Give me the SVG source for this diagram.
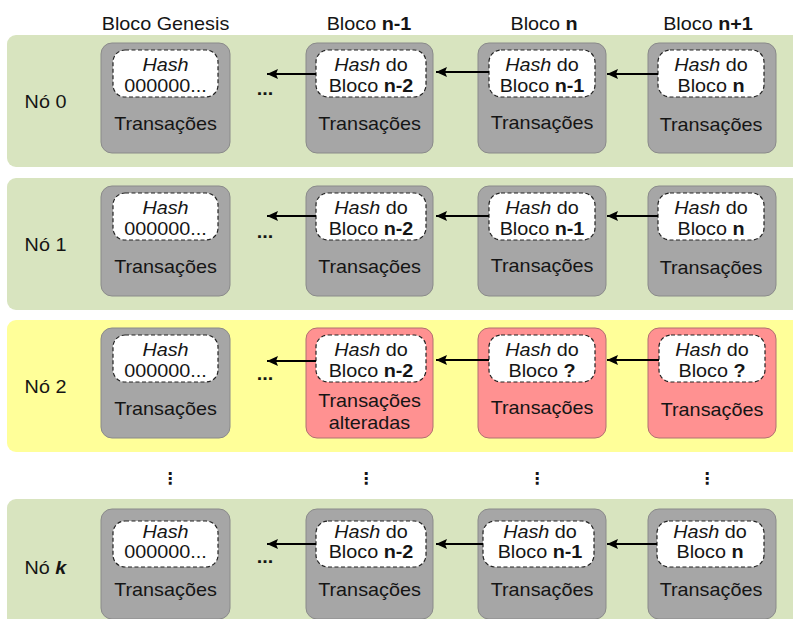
<svg xmlns="http://www.w3.org/2000/svg" width="793" height="619" viewBox="0 0 793 619">
  <style>
    text { font-family: "Liberation Sans", Arial, sans-serif; font-size: 18px; fill: #151515; text-anchor: middle;
           transform-box: fill-box; transform-origin: center; transform: scaleX(1.1); }
    .it { font-style: italic; }
    .b { font-weight: bold; }
    .band { fill: #d8e4bf; }
    .band.alert { fill: #ffff99; }
    .blk { fill: #a6a6a6; stroke: #8a8a8a; stroke-width: 1; }
    .blk.bad { fill: #ff9191; stroke: #b07070; }
    .hash { fill: #ffffff; stroke: #222; stroke-width: 1.2; stroke-dasharray: 4 2.5; }
    .link { stroke: #000; stroke-width: 2; fill: none; marker-end: url(#arrow); }
    .vdots { font-family: "DejaVu Sans", sans-serif; font-weight: bold; font-size: 16px; transform: none; }
  </style>
  <defs>
    <marker id="arrow" markerUnits="userSpaceOnUse" markerWidth="12" markerHeight="10" refX="11" refY="5" orient="auto">
      <path d="M0,0 L11,5 L0,10 L2,5 z" fill="#000"/>
    </marker>
  </defs>

  <rect width="793" height="619" fill="#ffffff"/>

  <!-- column headers -->
  <g id="headers">
    <text x="165.5" y="30">Bloco Genesis</text>
    <text x="369" y="30">Bloco <tspan class="b">n-1</tspan></text>
    <text x="544" y="30">Bloco <tspan class="b">n</tspan></text>
    <text x="708" y="30">Bloco <tspan class="b">n+1</tspan></text>
  </g>

  <!-- node 0 -->
  <g id="no-0">
    <rect class="band" x="7" y="35" width="800" height="132" rx="9"/>
    <text x="45.5" y="108">Nó 0</text>
    <text class="b" x="265" y="95">...</text>
    <g id="no0-genesis">
      <rect class="blk" x="101" y="43" width="129" height="110" rx="11"/>
      <rect class="hash" x="113" y="50" width="105" height="47" rx="12"/>
      <text class="it" x="165.5" y="71">Hash</text>
      <text x="165.5" y="92">000000...</text>
      <text x="165.5" y="130">Transações</text>
    </g>
    <g id="no0-bloco-n-1">
      <rect class="blk" x="306" y="43" width="127" height="110" rx="11"/>
      <rect class="hash" x="316" y="50" width="110" height="47" rx="12"/>
      <text x="371" y="71"><tspan class="it">Hash</tspan> do</text>
      <text x="371" y="92">Bloco <tspan class="b">n-2</tspan></text>
      <text x="369.5" y="130">Transações</text>
    </g>
    <g id="no0-bloco-n">
      <rect class="blk" x="478" y="43" width="128" height="110" rx="11"/>
      <rect class="hash" x="489" y="50" width="106" height="47" rx="12"/>
      <text x="542" y="71"><tspan class="it">Hash</tspan> do</text>
      <text x="542" y="92">Bloco <tspan class="b">n-1</tspan></text>
      <text x="542" y="129">Transações</text>
    </g>
    <g id="no0-bloco-n1">
      <rect class="blk" x="648" y="43" width="128" height="110" rx="11"/>
      <rect class="hash" x="658" y="50" width="106" height="47" rx="12"/>
      <text x="711" y="71"><tspan class="it">Hash</tspan> do</text>
      <text x="711" y="92">Bloco <tspan class="b">n</tspan></text>
      <text x="711" y="131">Transações</text>
    </g>
  </g>

  <!-- node 1 -->
  <g id="no-1" transform="translate(0,143)">
    <rect class="band" x="7" y="35" width="800" height="132" rx="9"/>
    <text x="45.5" y="108">Nó 1</text>
    <text class="b" x="265" y="95">...</text>
    <g id="no1-genesis">
      <rect class="blk" x="101" y="43" width="129" height="110" rx="11"/>
      <rect class="hash" x="113" y="50" width="105" height="47" rx="12"/>
      <text class="it" x="165.5" y="71">Hash</text>
      <text x="165.5" y="92">000000...</text>
      <text x="165.5" y="130">Transações</text>
    </g>
    <g id="no1-bloco-n-1">
      <rect class="blk" x="306" y="43" width="127" height="110" rx="11"/>
      <rect class="hash" x="316" y="50" width="110" height="47" rx="12"/>
      <text x="371" y="71"><tspan class="it">Hash</tspan> do</text>
      <text x="371" y="92">Bloco <tspan class="b">n-2</tspan></text>
      <text x="369.5" y="130">Transações</text>
    </g>
    <g id="no1-bloco-n">
      <rect class="blk" x="478" y="43" width="128" height="110" rx="11"/>
      <rect class="hash" x="489" y="50" width="106" height="47" rx="12"/>
      <text x="542" y="71"><tspan class="it">Hash</tspan> do</text>
      <text x="542" y="92">Bloco <tspan class="b">n-1</tspan></text>
      <text x="542" y="129">Transações</text>
    </g>
    <g id="no1-bloco-n1">
      <rect class="blk" x="648" y="43" width="128" height="110" rx="11"/>
      <rect class="hash" x="658" y="50" width="106" height="47" rx="12"/>
      <text x="711" y="71"><tspan class="it">Hash</tspan> do</text>
      <text x="711" y="92">Bloco <tspan class="b">n</tspan></text>
      <text x="711" y="131">Transações</text>
    </g>
  </g>

  <!-- node 2: altered chain -->
  <g id="no-2" transform="translate(0,285)">
    <rect class="band alert" x="7" y="35" width="800" height="132" rx="9"/>
    <text x="45.5" y="108">Nó 2</text>
    <text class="b" x="265" y="95">...</text>
    <g id="no2-genesis">
      <rect class="blk" x="101" y="43" width="129" height="110" rx="11"/>
      <rect class="hash" x="113" y="50" width="105" height="47" rx="12"/>
      <text class="it" x="165.5" y="71">Hash</text>
      <text x="165.5" y="92">000000...</text>
      <text x="165.5" y="130">Transações</text>
    </g>
    <g id="no2-bloco-n-1">
      <rect class="blk bad" x="306" y="43" width="127" height="110" rx="11"/>
      <rect class="hash" x="316" y="50" width="110" height="47" rx="12"/>
      <text x="371" y="71"><tspan class="it">Hash</tspan> do</text>
      <text x="371" y="92">Bloco <tspan class="b">n-2</tspan></text>
      <text x="369.5" y="122">Transações</text>
      <text x="369.5" y="144">alteradas</text>
    </g>
    <g id="no2-bloco-n">
      <rect class="blk bad" x="478" y="43" width="128" height="110" rx="11"/>
      <rect class="hash" x="489" y="50" width="106" height="47" rx="12"/>
      <text x="542" y="71"><tspan class="it">Hash</tspan> do</text>
      <text x="542" y="92">Bloco <tspan class="b">?</tspan></text>
      <text x="542" y="129">Transações</text>
    </g>
    <g id="no2-bloco-n1">
      <rect class="blk bad" x="648" y="43" width="128" height="110" rx="11"/>
      <rect class="hash" x="659" y="50" width="106" height="47" rx="12"/>
      <text x="712" y="71"><tspan class="it">Hash</tspan> do</text>
      <text x="712" y="92">Bloco <tspan class="b">?</tspan></text>
      <text x="712" y="131">Transações</text>
    </g>
  </g>

  <!-- vertical ellipses between node 2 and node k -->
  <g id="reticencias">
    <text class="vdots" x="170" y="484">⋮</text>
    <text class="vdots" x="366" y="484">⋮</text>
    <text class="vdots" x="537" y="484">⋮</text>
    <text class="vdots" x="707" y="484">⋮</text>
  </g>

  <!-- node k -->
  <g id="no-k" transform="translate(0,466)">
    <rect class="band" x="7" y="33" width="800" height="132" rx="9"/>
    <text x="45.5" y="108">Nó <tspan class="b it">k</tspan></text>
    <text class="b" x="265" y="97">...</text>
    <g id="nok-genesis">
      <rect class="blk" x="101" y="43" width="129" height="110" rx="11"/>
      <rect class="hash" x="113" y="55" width="105" height="46" rx="12"/>
      <text class="it" x="165.5" y="72">Hash</text>
      <text x="165.5" y="92">000000...</text>
      <text x="165.5" y="130">Transações</text>
    </g>
    <g id="nok-bloco-n-1">
      <rect class="blk" x="306" y="43" width="127" height="110" rx="11"/>
      <rect class="hash" x="316" y="55" width="110" height="46" rx="12"/>
      <text x="371" y="72"><tspan class="it">Hash</tspan> do</text>
      <text x="371" y="92">Bloco <tspan class="b">n-2</tspan></text>
      <text x="369.5" y="130">Transações</text>
    </g>
    <g id="nok-bloco-n">
      <rect class="blk" x="478" y="43" width="128" height="110" rx="11"/>
      <rect class="hash" x="483" y="55" width="111" height="46" rx="12"/>
      <text x="540" y="72"><tspan class="it">Hash</tspan> do</text>
      <text x="540" y="92">Bloco <tspan class="b">n-1</tspan></text>
      <text x="542" y="130">Transações</text>
    </g>
    <g id="nok-bloco-n1">
      <rect class="blk" x="648" y="43" width="128" height="110" rx="11"/>
      <rect class="hash" x="657" y="55" width="107" height="46" rx="12"/>
      <text x="710" y="72"><tspan class="it">Hash</tspan> do</text>
      <text x="710" y="92">Bloco <tspan class="b">n</tspan></text>
      <text x="711" y="130">Transações</text>
    </g>
  </g>

  <!-- hash links pointing back to the previous block -->
  <g id="conectores">
    <line class="link" x1="658" y1="74" x2="607" y2="74"/>
    <line class="link" x1="489" y1="72" x2="436" y2="72"/>
    <line class="link" x1="316" y1="74" x2="267" y2="74"/>

    <line class="link" x1="658" y1="216" x2="607" y2="216"/>
    <line class="link" x1="489" y1="216" x2="436" y2="216"/>
    <line class="link" x1="316" y1="216" x2="267" y2="216"/>

    <line class="link" x1="659" y1="360" x2="607" y2="360"/>
    <line class="link" x1="489" y1="360" x2="436" y2="360"/>
    <line class="link" x1="316" y1="361" x2="267" y2="361"/>

    <line class="link" x1="657" y1="544" x2="607" y2="544"/>
    <line class="link" x1="483" y1="544" x2="436" y2="544"/>
    <line class="link" x1="316" y1="544" x2="267" y2="544"/>
  </g>
</svg>
